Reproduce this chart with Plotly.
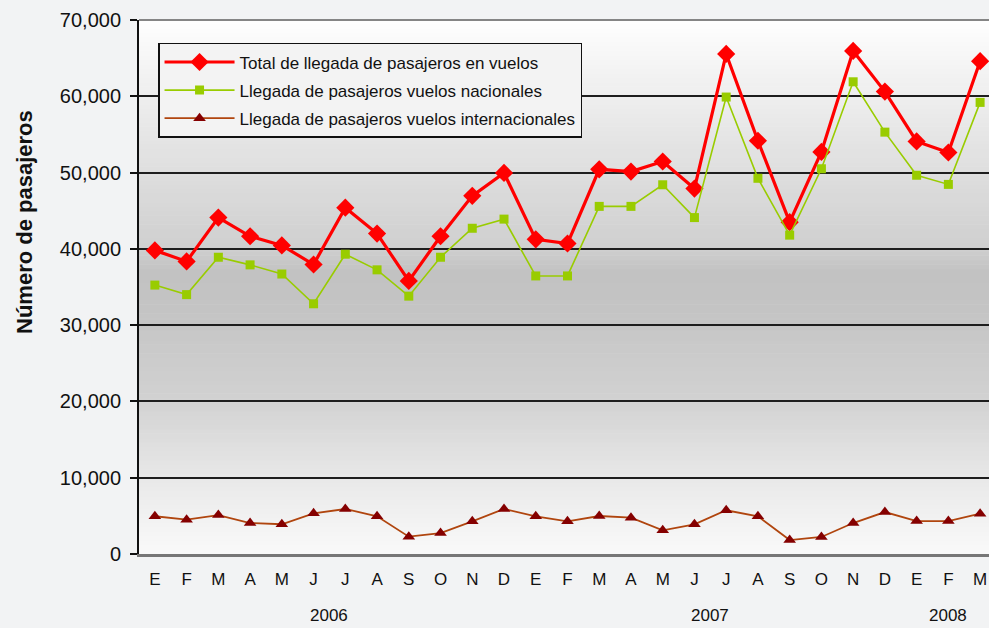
import plotly.graph_objects as go

# ---- data ----
month_labels = ["E", "F", "M", "A", "M", "J", "J", "A", "S", "O", "N", "D",
                "E", "F", "M", "A", "M", "J", "J", "A", "S", "O", "N", "D",
                "E", "F", "M"]
year_labels = ["2006", "2007", "2008"]
year_positions = [5.5, 17.5, 25]

total = [39800, 38350, 44100, 41650, 40450, 37950, 45400, 42000, 35800, 41650, 46950, 49950,
         41250, 40700, 50430, 50130, 51450, 47900, 65550, 54170, 43500, 52700, 65950, 60620,
         54080, 52630, 64600]
nacionales = [35250, 34000, 38900, 37900, 36700, 32800, 39300, 37250, 33800, 38900, 42700, 43900,
              36450, 36450, 45570, 45570, 48400, 44100, 59900, 49250, 41800, 50500, 61900, 55300,
              49650, 48450, 59200]
internacionales = [4950, 4500, 5100, 4060, 3900, 5330, 5900, 4940, 2270, 2750, 4280, 5900,
                   4940, 4280, 4980, 4760, 3100, 3890, 5730, 4940, 1830, 2230, 4060, 5500,
                   4320, 4320, 5280]

series_names = ["Total de llegada de pasajeros en vuelos",
                "Llegada de pasajeros vuelos nacionales",
                "Llegada de pasajeros vuelos internacionales"]

x_idx = list(range(len(month_labels)))

fig = go.Figure()
fig.add_trace(go.Scatter(x=x_idx, y=total, name=series_names[0], mode="lines+markers",
                         line=dict(color="#ff0000", width=3.2),
                         marker=dict(symbol="diamond", size=14, color="#ff0000"),
                         legendgroup="a"))
fig.add_trace(go.Scatter(x=x_idx, y=nacionales, name=series_names[1], mode="lines+markers",
                         line=dict(color="#99cc00", width=1.6),
                         marker=dict(symbol="square", size=9, color="#99cc00"),
                         legendgroup="b"))
fig.add_trace(go.Scatter(x=x_idx, y=internacionales, name=series_names[2], mode="lines+markers",
                         line=dict(color="#b0450e", width=1.8),
                         marker=dict(symbol="triangle-up", size=11, color="#850000"),
                         legendgroup="c"))

# ---- background gradient in plot area (stripes) ----
grad_stops = [(0.0, 250), (1/7, 232), (2/7, 210), (3.2/7, 196), (3.7/7, 194),
              (4/7, 207), (5/7, 222), (6/7, 238), (1.0, 254)]

def gray_at(f):
    for (f0, c0), (f1, c1) in zip(grad_stops[:-1], grad_stops[1:]):
        if f0 <= f <= f1:
            t = (f - f0) / (f1 - f0) if f1 > f0 else 0
            return c0 + (c1 - c0) * t
    return grad_stops[-1][1]

n_stripes = 120
shapes = []
for i in range(n_stripes):
    f0 = i / n_stripes
    f1 = (i + 1) / n_stripes
    g = int(round(gray_at((f0 + f1) / 2)))
    shapes.append(dict(type="rect", xref="paper", yref="paper", x0=0, x1=1,
                       y0=f0, y1=f1 + 0.001, fillcolor=f"rgb({g},{g},{g})",
                       line=dict(width=0), layer="below"))
# top border
shapes.append(dict(type="line", xref="paper", yref="paper", x0=0, x1=1, y0=1, y1=1,
                   line=dict(color="#858585", width=2), layer="above"))

annotations = []
for lab, pos in zip(year_labels, year_positions):
    annotations.append(dict(x=pos, xref="x", y=-0.116, yref="paper", text=lab,
                            showarrow=False, yanchor="middle", xanchor="center",
                            font=dict(family="Arial, Liberation Sans", size=17, color="#111111")))
annotations.append(dict(x=-0.134, xref="paper", y=0.622, yref="paper",
                        text="<b>Número de pasajeros</b>", textangle=-90, showarrow=False,
                        xanchor="center", yanchor="middle",
                        font=dict(family="Arial, Liberation Sans", size=22, color="#111111")))

fig.update_layout(
    width=989, height=628,
    margin=dict(l=139, r=0, t=20, b=74),
    paper_bgcolor="#f2f3f4",
    plot_bgcolor="rgba(0,0,0,0)",
    font=dict(family="Arial, Liberation Sans", color="#111111"),
    shapes=shapes,
    annotations=annotations,
    showlegend=True,
    legend=dict(x=0.0224, y=0.957, xanchor="left", yanchor="top",
                bgcolor="#f3f3f3", bordercolor="#111111", borderwidth=1.5,
                font=dict(family="Arial, Liberation Sans", size=17, color="#111111"),
                itemwidth=70, tracegroupgap=3, traceorder="grouped",
                entrywidth=365, entrywidthmode="pixels"),
    xaxis=dict(range=[-0.5, 26.28], tickvals=x_idx, ticktext=month_labels,
               showgrid=False, zeroline=False, showline=True, linecolor="#777777",
               linewidth=2.5, ticks="", tickfont=dict(size=17, color="#111111"),
               ticklabelstandoff=8),
    yaxis=dict(range=[0, 70000], dtick=10000, tickformat=",", showgrid=True,
               gridcolor="#1e1e1e", gridwidth=1.5, zeroline=False,
               showline=True, linecolor="#111111", linewidth=2,
               ticks="outside", ticklen=7, tickcolor="#111111", tickwidth=1.5,
               ticklabelstandoff=5,
               tickfont=dict(size=20, color="#111111")),
)

fig.write_html("out.html", config={"displayModeBar": False},
               post_script="document.body.style.margin='0';document.body.style.overflow='hidden';")
